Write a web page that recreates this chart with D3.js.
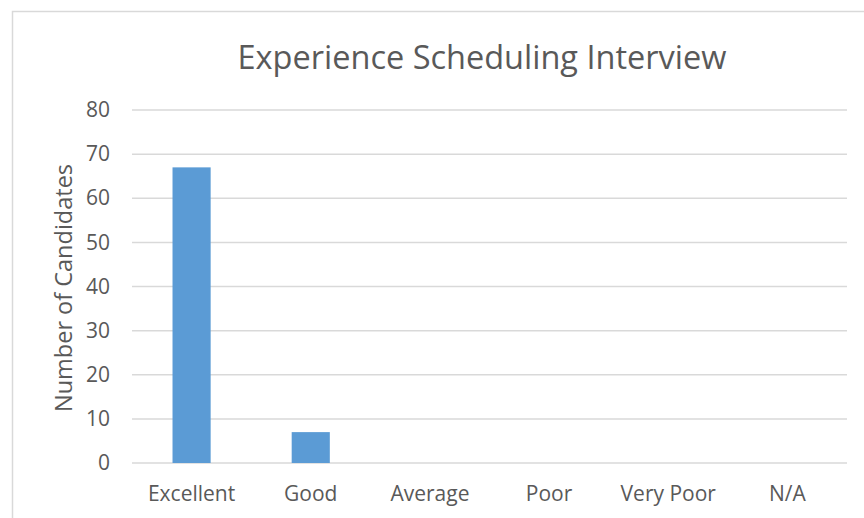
<!DOCTYPE html>
<html>
<head>
<meta charset="utf-8">
<script src="https://cdn.jsdelivr.net/npm/d3@7"></script>
<style>
  body { margin: 0; background: #fff; }
  svg { display: block; }
  text { font-family: "Open Sans", sans-serif; fill: #595959; }
</style>
</head>
<body>
<svg id="chart" width="864" height="518"></svg>
<script>
const categories = ["Excellent", "Good", "Average", "Poor", "Very Poor", "N/A"];
const values = [67, 7, 0, 0, 0, 0];
const yTicks = [0, 10, 20, 30, 40, 50, 60, 70, 80];
const chartTitle = "Experience Scheduling Interview";
const yAxisTitle = "Number of Candidates";

const svg = d3.select("#chart");
const W = 864, H = 518;
const plot = { left: 132, right: 847, top: 110, bottom: 463 };

// outer chart border (only top and left visible in the crop)
svg.append("path")
  .attr("d", `M12.5,${H} L12.5,11.5 L${W},11.5`)
  .attr("fill", "none")
  .attr("stroke", "#d9d9d9")
  .attr("stroke-width", 1.5);

const x = d3.scaleBand().domain(categories).range([plot.left, plot.right]).paddingInner(0.68).paddingOuter(0.34);
const y = d3.scaleLinear().domain([0, 80]).range([plot.bottom, plot.top]);

// gridlines
svg.append("g").selectAll("line").data(yTicks).join("line")
  .attr("x1", plot.left).attr("x2", plot.right)
  .attr("y1", d => y(d)).attr("y2", d => y(d))
  .attr("stroke", "#d9d9d9").attr("stroke-width", 1.5);

// bars
svg.append("g").selectAll("rect").data(values).join("rect")
  .attr("x", (d, i) => x(categories[i]))
  .attr("width", x.bandwidth())
  .attr("y", d => y(d))
  .attr("height", d => y(0) - y(d))
  .attr("fill", "#5b9bd5");

// y axis tick labels
const yAxis = d3.axisLeft(y).tickValues(yTicks).tickSize(0).tickPadding(0);
const gy = svg.append("g").attr("transform", `translate(110,0)`).call(yAxis);
gy.select(".domain").remove();
gy.selectAll("text").attr("font-size", 21).style("font-family", "'Open Sans', sans-serif").attr("fill", "#595959");

// x axis labels
const xAxis = d3.axisBottom(x).tickSize(0).tickPadding(0);
const gx = svg.append("g").attr("transform", `translate(0,${plot.bottom})`).call(xAxis);
gx.select(".domain").remove();
gx.selectAll("text").attr("font-size", 21).attr("dy", null).attr("y", 38)
  .style("font-family", "'Open Sans', sans-serif").attr("fill", "#595959");

// title
svg.append("text").attr("x", 482).attr("y", 69).attr("text-anchor", "middle")
  .attr("font-size", 32.5).text(chartTitle);

// y axis title
svg.append("text").attr("transform", "translate(72,288) rotate(-90)")
  .attr("text-anchor", "middle").attr("font-size", 23.5).text(yAxisTitle);
</script>
</body>
</html>
